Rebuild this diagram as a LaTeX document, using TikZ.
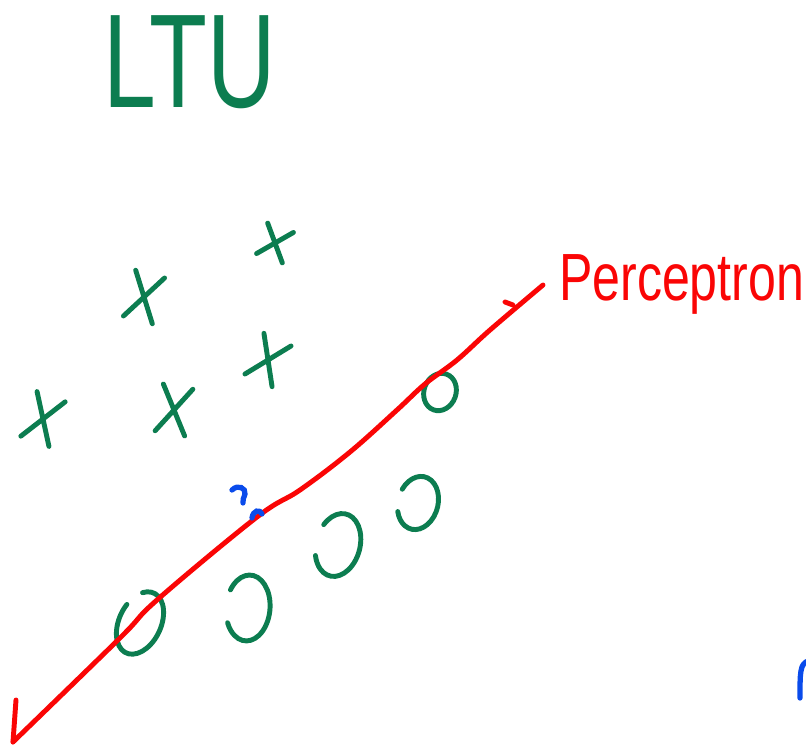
\documentclass[tikz,border=0pt]{standalone}
\usepackage{fontspec}
\setmainfont{Liberation Sans}
\usepackage{xcolor}
\usepackage{tikz}
\usetikzlibrary{shapes.misc}

\definecolor{inkgreen}{RGB}{12,125,80}
\definecolor{inkred}{RGB}{250,5,5}
\definecolor{inkblue}{RGB}{10,75,235}

\begin{document}
\begin{tikzpicture}[
  x=0.02cm, y=-0.02cm,
  xmark/.style={cross out, draw=inkgreen, line width=2.8pt, line cap=round,
    inner sep=0pt, minimum width=0.5cm, minimum height=0.85cm},
  omark/.style={draw=inkgreen, line width=2.8pt, line cap=round},
  boundary/.style={draw=inkred, line width=2.8pt, line cap=round, line join=round},
  scribble/.style={draw=inkblue, line width=3pt, line cap=round},
]
\useasboundingbox (0,0) rectangle (806,747);

% Title
\node[text=inkgreen, font=\fontsize{76}{76}\selectfont] (title) at (190,62)
  {\scalebox{0.71}[1]{LTU}};

% Class x
\node[xmark, minimum width=0.45cm, minimum height=0.55cm, rotate=-20] (x1) at (275,243) {};
\node[xmark, rotate=-15] (x2) at (144,297) {};
\node[xmark, minimum height=0.8cm, rotate=-25] (x3) at (268,360) {};
\node[xmark, rotate=-20] (x4) at (43,419) {};
\node[xmark, rotate=-10] (x5) at (174,410) {};

% Class o
\coordinate (o1) at (140,623);
\coordinate (o2) at (248,608);
\coordinate (o3) at (338,545);
\coordinate (o4) at (418,503);
\coordinate (o5) at (440,392);
\draw[omark, rotate around={-25:(o1)}] (o1) ++(-120:21 and 33) arc[start angle=-120, end angle=200, x radius=21, y radius=33];
\draw[omark, rotate around={-5:(o2)}] (o2) ++(-150:22 and 33) arc[start angle=-150, end angle=150, x radius=22, y radius=33];
\draw[omark, rotate around={-15:(o3)}] (o3) ++(-150:22 and 32) arc[start angle=-150, end angle=150, x radius=22, y radius=32];
\draw[omark, rotate around={-15:(o4)}] (o4) ++(-160:20 and 27) arc[start angle=-160, end angle=150, x radius=20, y radius=27];
\draw[omark, rotate around={-20:(o5)}] (o5) ellipse[x radius=16, y radius=19];

% Decision line
\coordinate (tip) at (13,742);
\coordinate (arm) at (16,700);
\coordinate (head) at (543,285);
\draw[boundary] plot[smooth, tension=0.6] coordinates {
  (tip) (120,638) (157,600) (257,517) (300,490) (350,452) (397,410)
  (425,384) (457,360) (490,330) (head)};
\draw[boundary] (arm) -- (tip);
\draw[boundary] (505,302) -- (513,305);

% Label
\node[text=inkred, anchor=base west, font=\fontsize{38}{38}\selectfont] (perc) at (553,300)
  {\scalebox{0.75}[1]{Perceptron}};

% Blue notes
\draw[scribble] (232,490) .. controls (238,484) and (246,488) .. (245,494)
  .. controls (244,498) and (242,500) .. (243,503);
\draw[scribble] (252,518) .. controls (253,510) and (260,509) .. (262,514);
\draw[scribble] (808,661) .. controls (800,664) and (800,672) .. (800,698);

\end{tikzpicture}
\end{document}
